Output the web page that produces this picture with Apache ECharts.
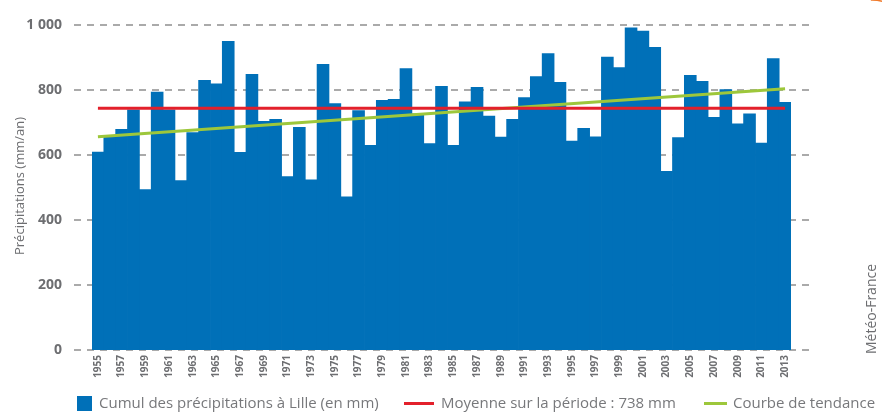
<!DOCTYPE html>
<html lang="fr">
<head>
    <meta charset="UTF-8">
    <title>Précipitations Lille</title>
    <script src="https://cdn.jsdelivr.net/npm/echarts@6/dist/echarts.min.js"></script>
    <style type="text/css">
        html, body { margin: 0; padding: 0; background: #fff; }
        #chart { width: 882px; height: 412px; }
    </style>
</head>
<body>
<div id="chart"></div>
<script type="text/javascript">
    // années 1955 - 2013
    var years = ['1955','1956','1957','1958','1959','1960','1961','1962','1963','1964',
                 '1965','1966','1967','1968','1969','1970','1971','1972','1973','1974',
                 '1975','1976','1977','1978','1979','1980','1981','1982','1983','1984',
                 '1985','1986','1987','1988','1989','1990','1991','1992','1993','1994',
                 '1995','1996','1997','1998','1999','2000','2001','2002','2003','2004',
                 '2005','2006','2007','2008','2009','2010','2011','2012','2013'];
    // cumul annuel (mm)
    var rain = [610, 656, 680, 740, 495, 795, 740, 522, 670, 831,
                820, 951, 609, 849, 705, 711, 535, 686, 525, 880,
                759, 472, 738, 631, 769, 772, 867, 728, 636, 812,
                631, 765, 809, 721, 656, 711, 778, 842, 913, 825,
                644, 683, 657, 902, 870, 992, 982, 932, 551, 655,
                846, 828, 717, 802, 697, 728, 638, 898, 763];
    var meanValue = 744;      // ligne rouge (738 mm annoncé)
    var trendStart = 656;     // courbe de tendance 1955
    var trendEnd = 804;       // courbe de tendance 2013
    var yTicks = [0, 200, 400, 600, 800, 1000];

    var names = ['Cumul des précipitations à Lille (en mm)',
                 'Moyenne sur la période : 738 mm',
                 'Courbe de tendance'];

    // lignes tracées d'un bout à l'autre
    function endsOnly(a, b) {
        var arr = years.map(function () { return null; });
        arr[0] = a;
        arr[arr.length - 1] = b;
        return arr;
    }

    var font = "'Open Sans', 'DejaVu Sans', sans-serif";
    function legendText(pad) {
        return { color: '#77787b', fontSize: 15, fontFamily: font, padding: [0, 0, 0, pad] };
    }

    var chart = echarts.init(document.getElementById('chart'));
    var option = {
        animation: false,
        grid: [
            { left: 74, right: 70, top: 25, bottom: 62 },   // quadrillage
            { left: 92, right: 91, top: 25, bottom: 62 }    // barres
        ],
        xAxis: [
            { gridIndex: 0, type: 'value', show: false, min: 0, max: 1 },
            {
                gridIndex: 1,
                type: 'category',
                data: years,
                boundaryGap: true,
                axisLine: { show: false },
                axisTick: { show: false },
                axisLabel: {
                    interval: 1,
                    rotate: 90,
                    margin: 5,
                    color: '#6d6e71',
                    fontSize: 10,
                    fontWeight: 'bold',
                    fontFamily: font
                }
            }
        ],
        yAxis: [
            {
                gridIndex: 0,
                type: 'value',
                min: yTicks[0],
                max: yTicks[yTicks.length - 1],
                interval: 200,
                axisLine: { show: false },
                axisTick: { show: false },
                axisLabel: {
                    margin: 12,
                    color: '#6d6e71',
                    fontSize: 14,
                    fontWeight: 'bold',
                    fontFamily: font,
                    formatter: function (v) {
                        return v >= 1000 ? '1 000' : String(v);
                    }
                },
                splitLine: {
                    show: true,
                    lineStyle: { color: '#8f8f8f', width: 1.5, type: [7, 6] }
                }
            },
            {
                gridIndex: 1,
                type: 'value',
                min: 0,
                max: 1000,
                show: false,
                splitLine: { show: false }
            }
        ],
        legend: [
            {
                data: [{ name: names[0], icon: 'rect' }],
                left: 72, top: 391,
                itemWidth: 15, itemHeight: 15,
                selectedMode: false,
                textStyle: legendText(2)
            },
            {
                data: [{ name: names[1], icon: 'rect' }],
                left: 399, top: 391,
                itemWidth: 30, itemHeight: 3,
                selectedMode: false,
                textStyle: legendText(2)
            },
            {
                data: [{ name: names[2], icon: 'rect' }],
                left: 699, top: 391,
                itemWidth: 23, itemHeight: 3,
                selectedMode: false,
                textStyle: legendText(1)
            }
        ],
        graphic: [
            {
                type: 'text',
                x: 20, y: 186,
                rotation: Math.PI / 2,
                style: {
                    text: 'Précipitations (mm/an)',
                    fill: '#6d6e71',
                    font: '13px ' + font,
                    align: 'center',
                    verticalAlign: 'middle'
                }
            },
            {
                type: 'text',
                x: 872, y: 309,
                rotation: Math.PI / 2,
                style: {
                    text: 'Météo-France',
                    fill: '#6d6e71',
                    font: '14px ' + font,
                    align: 'center',
                    verticalAlign: 'middle'
                }
            },
            {
                type: 'arc',
                shape: { cx: 872, cy: 40, r: 40, startAngle: -1.6, endAngle: -1.1 },
                style: { stroke: '#f07a2b', lineWidth: 1.5, fill: null }
            }
        ],
        series: [
            {
                name: names[0],
                type: 'bar',
                xAxisIndex: 1,
                yAxisIndex: 1,
                data: rain,
                barWidth: 12.6,
                itemStyle: { color: '#0070b8' }
            },
            {
                name: names[1],
                type: 'line',
                xAxisIndex: 1,
                yAxisIndex: 1,
                data: endsOnly(meanValue, meanValue),
                connectNulls: true,
                symbol: 'none',
                itemStyle: { color: '#e3202b' },
                lineStyle: { color: '#e3202b', width: 3 },
                z: 5
            },
            {
                name: names[2],
                type: 'line',
                xAxisIndex: 1,
                yAxisIndex: 1,
                data: endsOnly(trendStart, trendEnd),
                connectNulls: true,
                symbol: 'none',
                itemStyle: { color: '#9dc73b' },
                lineStyle: { color: '#9dc73b', width: 3 },
                z: 4
            }
        ]
    };
    chart.setOption(option);
</script>
</body>
</html>
